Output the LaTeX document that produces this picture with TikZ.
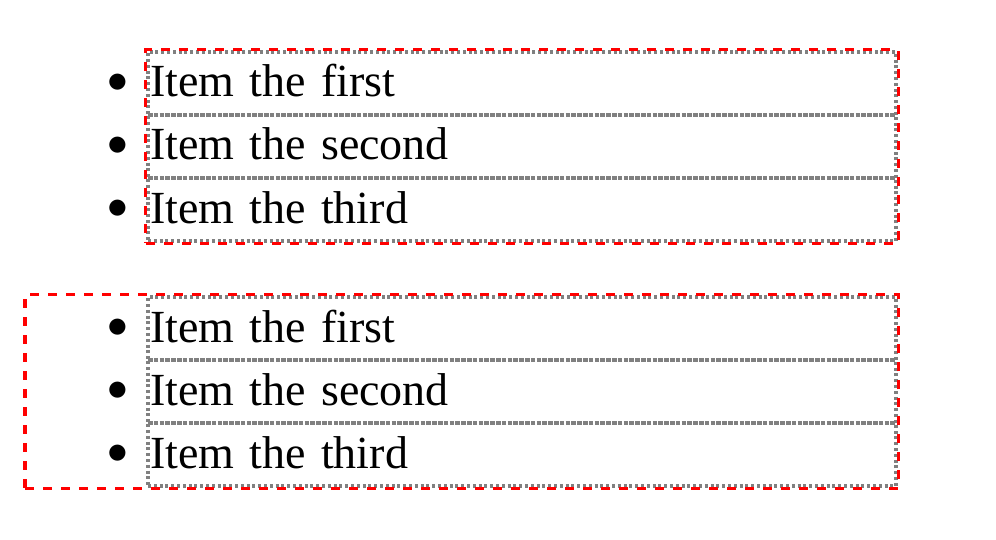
\documentclass[tikz,border=0pt]{standalone}
\usepackage{fontspec}
\setmainfont{Liberation Serif}
\usetikzlibrary{
  fit,
  positioning
}
\usepackage{xcolor}
\tikzset{
  itembox/.style={
    draw=gray,
    line width=1.8pt,
    dash pattern=on 1.5pt off 1.4pt,
    rectangle,
    anchor=north west,
    inner xsep=1pt,
    inner ysep=0pt,
    outer sep=0pt,
    text width=372pt,
    text height=22.5pt,
    text depth=9pt,
    minimum height=31.5pt,
    align=left,
    font=\fontsize{23}{28}\selectfont
  },
  bulletmark/.style={inner sep=0pt, font=\fontsize{22}{28}\selectfont},
  listframe/.style={draw=red, line width=1.6pt, dash pattern=on 4.5pt off 4.5pt, inner sep=1.1pt}
}

\begin{document}
\begin{tikzpicture}[x=1pt,y=1pt]
  \useasboundingbox (0,0) rectangle (498,-270);

  % first list, frame round the items only
  \node[itembox] (topfirst) at (74,-26) {Item the first};
  \node[itembox, below=0pt of topfirst] (topsecond) {Item the second};
  \node[itembox, below=0pt of topsecond] (topthird) {Item the third};

  \node[bulletmark, left=9.5pt of topfirst.west] (topbulfirst) {$\bullet$};
  \node[bulletmark, left=9.5pt of topsecond.west] (topbulsecond) {$\bullet$};
  \node[bulletmark, left=9.5pt of topthird.west] (topbulthird) {$\bullet$};

  \node[listframe, fit=(topfirst)(topthird)] (topframe) {};

  % second list, frame round the whole list
  \node[itembox] (botfirst) at (74,-148.5) {Item the first};
  \node[itembox, below=0pt of botfirst] (botsecond) {Item the second};
  \node[itembox, below=0pt of botsecond] (botthird) {Item the third};

  \node[bulletmark, left=9.5pt of botfirst.west] (botbulfirst) {$\bullet$};
  \node[bulletmark, left=9.5pt of botsecond.west] (botbulsecond) {$\bullet$};
  \node[bulletmark, left=9.5pt of botthird.west] (botbulthird) {$\bullet$};

  \coordinate (botmargin) at (13.6,-200);
  \node[listframe, fit=(botfirst)(botthird)(botmargin)] (botframe) {};
\end{tikzpicture}
\end{document}
